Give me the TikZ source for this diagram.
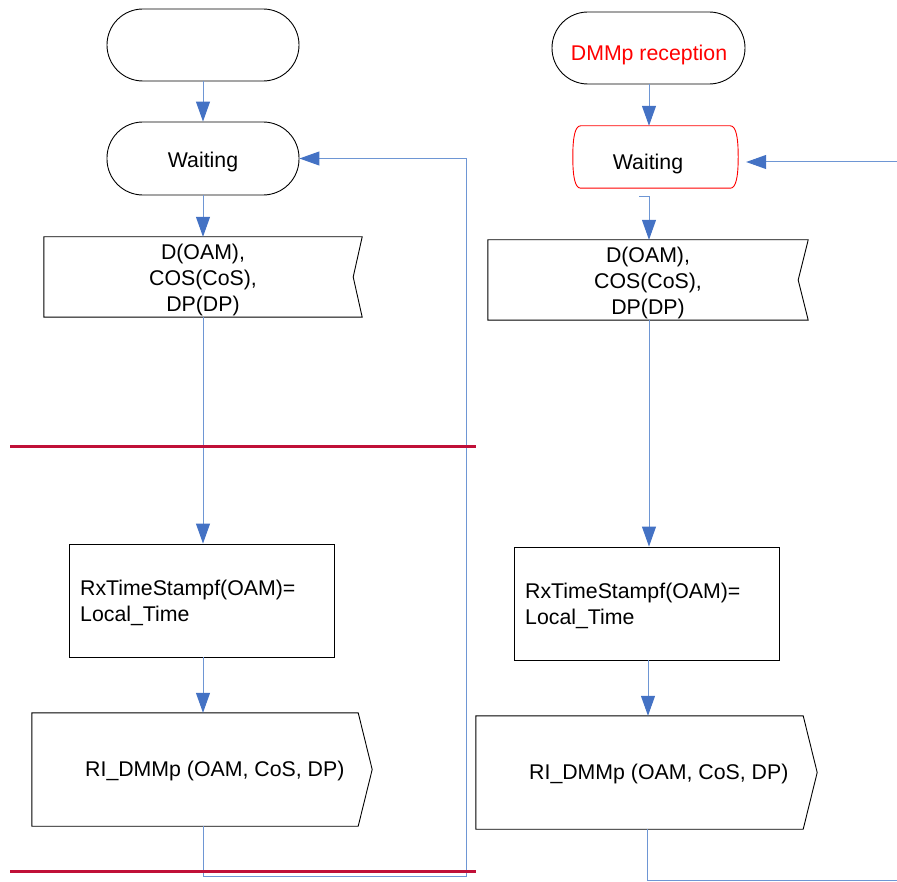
\documentclass[tikz,border=0pt]{standalone}
\usepackage{fontspec}
\setmainfont{Liberation Sans}
\usetikzlibrary{arrows.meta,calc}
\definecolor{lineblue}{RGB}{110,150,212}
\definecolor{tipblue}{RGB}{68,114,196}
\definecolor{sepred}{RGB}{192,16,56}
\begin{document}
\begin{tikzpicture}[x=1pt,y=-1pt,font=\fontsize{21.3}{26}\selectfont,
  term/.style={draw=black, line width=0.9pt, rounded corners=35.9pt, minimum width=192pt, minimum height=72pt, inner sep=0pt},
  sigbox/.style={inner sep=0pt},
  procbox/.style={draw=black, line width=0.9pt, inner sep=0pt, inner xsep=11pt, minimum height=113pt, text width=243pt, align=left},
  outline/.style={draw=black, line width=0.9pt},
  txt/.style={inner sep=0pt},
  conn/.style={draw=lineblue, line width=1pt},
  arr/.style={conn, -{Triangle[length=20pt,width=14pt,color=tipblue]}},
  sep/.style={draw=sepred, line width=3pt}]
\useasboundingbox (0,0) rectangle (897,882);

% ---------- left column ----------
\coordinate (lcol) at (203,0);
\node[term] (lstart) at (203,45) {};
\node[term, minimum height=73pt] (lwait) at (203,158.5) {};
\node[txt] (lwaittxt) at (203,162) {Waiting};
\node[sigbox, minimum width=318pt, minimum height=80pt] (lin) at (203,277) {};
\draw[outline] (lin.north west) -- (lin.north east) -- ([xshift=-9pt]lin.east) -- (lin.south east) -- (lin.south west) -- cycle;
\node[txt, align=center] (lintxt) at (203,279.5) {D(OAM),\\COS(CoS),\\DP(DP)};
\node[procbox] (lbox) at (201.5,600.5) {};
\node[txt, anchor=west, align=left] (lboxtxt) at (80,602.5) {RxTimeStampf(OAM)=\\Local\_Time};
\node[sigbox, minimum width=326pt, minimum height=113pt] (lout) at (195,769.5) {};
\draw[outline] (lout.north west) -- (lout.north east) -- ([xshift=14pt]lout.east) -- (lout.south east) -- (lout.south west) -- cycle;
\node[txt, anchor=west] (louttxt) at (85,771) {RI\_DMMp (OAM, CoS, DP)};

\draw[arr] (lstart.south -| lcol) -- (lwait.north -| lcol);
\draw[arr] (lwait.south -| lcol) -- (lin.north -| lcol);
\draw[arr] (lin.south -| lcol) -- (lbox.north -| lcol);
\draw[arr] (lbox.south -| lcol) -- (lout.north -| lcol);
\coordinate (lbot) at (203,876);
\coordinate (lret) at (466,876);
\coordinate (ltop) at (466,158.5);
\draw[arr] (lout.south -| lcol) -- (lbot) -- (lret) -- (ltop) -- (lwait.east);

% separators
\coordinate (s1a) at (10,446);
\coordinate (s1b) at (476,446);
\coordinate (s2a) at (10,871);
\coordinate (s2b) at (476,871);
\draw[sep] (s1a) -- (s1b);
\draw[sep] (s2a) -- (s2b);

% ---------- right column ----------
\coordinate (rcol) at (649,0);
\node[term, minimum width=193pt] (rstart) at (648.5,48) {};
\node[txt, text=red] (rstarttxt) at (649,55) {DMMp reception};
\node[sigbox, minimum width=165pt, minimum height=62pt] (rwait) at (655.5,157) {};
\draw[draw=red, line width=0.9pt]
  ([xshift=8pt]rwait.north west) -- ([xshift=-8pt]rwait.north east)
  .. controls ([xshift=-2pt]rwait.north east) and ([yshift=-12pt]rwait.north east) .. (rwait.east)
  .. controls ([yshift=12pt]rwait.south east) and ([xshift=-2pt]rwait.south east) .. ([xshift=-8pt]rwait.south east)
  -- ([xshift=8pt]rwait.south west)
  .. controls ([xshift=2pt]rwait.south west) and ([yshift=12pt]rwait.south west) .. (rwait.west)
  .. controls ([yshift=-12pt]rwait.north west) and ([xshift=2pt]rwait.north west) .. cycle;
\node[txt] (rwaittxt) at (648,164) {Waiting};
\node[sigbox, minimum width=320pt, minimum height=80pt] (rin) at (648,280) {};
\draw[outline] (rin.north west) -- (rin.north east) -- ([xshift=-10pt]rin.east) -- (rin.south east) -- (rin.south west) -- cycle;
\node[txt, align=center] (rintxt) at (648,282.5) {D(OAM),\\COS(CoS),\\DP(DP)};
\node[procbox] (rbox) at (646.5,603.5) {};
\node[txt, anchor=west, align=left] (rboxtxt) at (525,605.5) {RxTimeStampf(OAM)=\\Local\_Time};
\node[sigbox, minimum width=327pt, minimum height=113pt] (rout) at (639.5,772.5) {};
\draw[outline] (rout.north west) -- (rout.north east) -- ([xshift=14pt]rout.east) -- (rout.south east) -- (rout.south west) -- cycle;
\node[txt, anchor=west] (routtxt) at (529,774) {RI\_DMMp (OAM, CoS, DP)};

\draw[arr] (rstart.south -| rcol) -- (rwait.north -| rcol);
\coordinate (rstub) at (639,197);
\draw[arr] (rstub) -- (rstub -| rcol) -- (rin.north -| rcol);
\draw[arr] (rin.south -| rcol) -- (rbox.north -| rcol);
\coordinate (rcol2) at (648,0);
\draw[arr] (rbox.south -| rcol2) -- (rout.north -| rcol2);
\coordinate (rfeed) at (897,162);
\coordinate (rtip) at ([xshift=8pt]rwait.east);
\draw[arr] (rfeed) -- (rtip |- rfeed);
\coordinate (rcol3) at (647,0);
\coordinate (rbot) at (647,880);
\coordinate (rend) at (897,880);
\draw[conn] (rout.south -| rcol3) -- (rbot) -- (rend);
\end{tikzpicture}
\end{document}
